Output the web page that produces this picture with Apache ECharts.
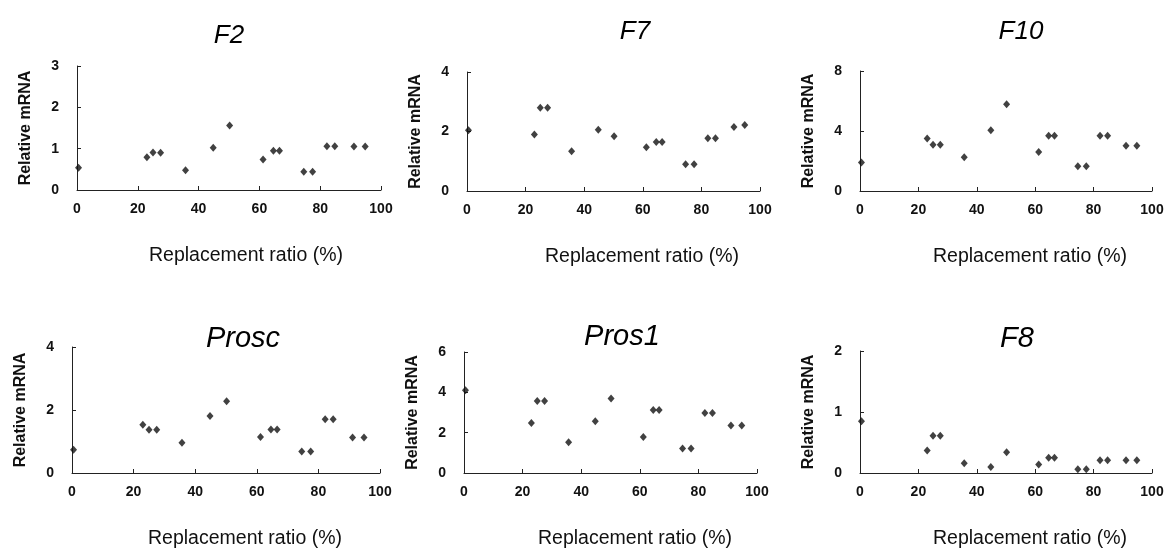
<!DOCTYPE html>
<html><head><meta charset="utf-8">
<script src="https://cdn.jsdelivr.net/npm/echarts@6/dist/echarts.min.js"></script>
<style>html,body{margin:0;padding:0;background:#fff}#c{width:1167px;height:553px}</style>
</head><body><div id="c"></div>
<script>
const ratio = [0.5, 23, 25, 27.5, 35.7, 44.8, 50.2, 61.2, 64.6, 66.6, 74.6, 77.5, 82.2, 84.8, 91.1, 94.8];
const genes = ['F2', 'F7', 'F10', 'Prosc', 'Pros1', 'F8'];
const F2 = [0.54, 0.79, 0.91, 0.90, 0.48, 1.02, 1.56, 0.74, 0.95, 0.95, 0.44, 0.44, 1.06, 1.06, 1.05, 1.05];
const F7 = [2.04, 1.90, 2.80, 2.80, 1.34, 2.06, 1.84, 1.47, 1.65, 1.65, 0.90, 0.90, 1.77, 1.77, 2.15, 2.22];
const F10 = [1.90, 3.50, 3.08, 3.08, 2.25, 4.05, 5.79, 2.60, 3.68, 3.68, 1.65, 1.65, 3.68, 3.68, 3.02, 3.02];
const Prosc = [0.74, 1.53, 1.37, 1.37, 0.96, 1.81, 2.28, 1.14, 1.38, 1.38, 0.68, 0.68, 1.71, 1.71, 1.13, 1.13];
const Pros1 = [4.10, 2.48, 3.57, 3.57, 1.52, 2.56, 3.70, 1.79, 3.12, 3.12, 1.21, 1.21, 2.98, 2.98, 2.36, 2.36];
const F8 = [0.85, 0.37, 0.61, 0.61, 0.16, 0.10, 0.34, 0.14, 0.25, 0.25, 0.06, 0.06, 0.21, 0.21, 0.21, 0.21];
const yMax = [3, 4, 8, 4, 6, 2];
const yStep = [1, 2, 4, 2, 2, 1];
const xTicks = [0, 100, 20];
const xTitle = 'Replacement ratio (%)';
const yTitle = 'Relative mRNA';

const values = [F2, F7, F10, Prosc, Pros1, F8];
// layout
const grids = [
  {left: 77, top: 66, width: 304, height: 124},
  {left: 467, top: 72, width: 293, height: 119},
  {left: 860, top: 71, width: 292, height: 120},
  {left: 72, top: 347, width: 308, height: 126},
  {left: 464, top: 352, width: 293, height: 121},
  {left: 860, top: 351, width: 292, height: 122}
];
const titlePos = [[224, 33, 26], [630, 29, 26], [1016, 29, 26], [238, 337, 29], [617, 335, 29], [1012, 337, 29]];
const xNameShift = [34, 57, 48, 38, 49, 48];
const FONT = '"Liberation Sans", Arial, sans-serif';

const option = {
  backgroundColor: '#fff',
  animation: false,
  title: genes.map((g, i) => ({
    text: g, left: titlePos[i][0], top: titlePos[i][1] - titlePos[i][2] * 0.6, textAlign: 'center',
    textStyle: {fontFamily: FONT, fontStyle: 'italic', fontWeight: 'normal', fontSize: titlePos[i][2], color: '#000'}
  })),
  grid: grids.map(g => Object.assign({containLabel: false}, g)),
  xAxis: genes.map((g, i) => ({
    gridIndex: i, type: 'value', min: xTicks[0], max: xTicks[1], interval: xTicks[2],
    splitLine: {show: false},
    axisLine: {show: true, onZero: false, lineStyle: {color: '#222', width: 1}},
    axisTick: {show: true, inside: true, length: 4, lineStyle: {color: '#222'}},
    axisLabel: {margin: 12, fontFamily: FONT, fontWeight: 'bold', fontSize: 14, color: '#111'},
    name: xTitle, nameLocation: 'middle', nameGap: 56,
    nameTextStyle: {fontFamily: FONT, fontSize: 19.5, color: '#111', padding: [0, 0, 0, xNameShift[i]]}
  })),
  yAxis: genes.map((g, i) => ({
    gridIndex: i, type: 'value', min: 0, max: yMax[i], interval: yStep[i],
    splitLine: {show: false},
    axisLine: {show: true, lineStyle: {color: '#222', width: 1}},
    axisTick: {show: true, inside: true, length: 4, lineStyle: {color: '#222'}},
    axisLabel: {margin: 18, fontFamily: FONT, fontWeight: 'bold', fontSize: 14, color: '#111'},
    name: yTitle, nameLocation: 'middle', nameGap: 43,
    nameTextStyle: {fontFamily: FONT, fontWeight: 'bold', fontSize: 16, color: '#111'}
  })),
  series: genes.map((g, i) => ({
    name: g, type: 'scatter', xAxisIndex: i, yAxisIndex: i,
    symbol: 'diamond', symbolSize: [7, 8],
    itemStyle: {color: '#111'},
    data: ratio.map((x, k) => [x, values[i][k]])
  }))
};
const chart = echarts.init(document.getElementById('c'), null, {renderer: 'canvas'});
chart.setOption(option);
</script>
</body></html>
